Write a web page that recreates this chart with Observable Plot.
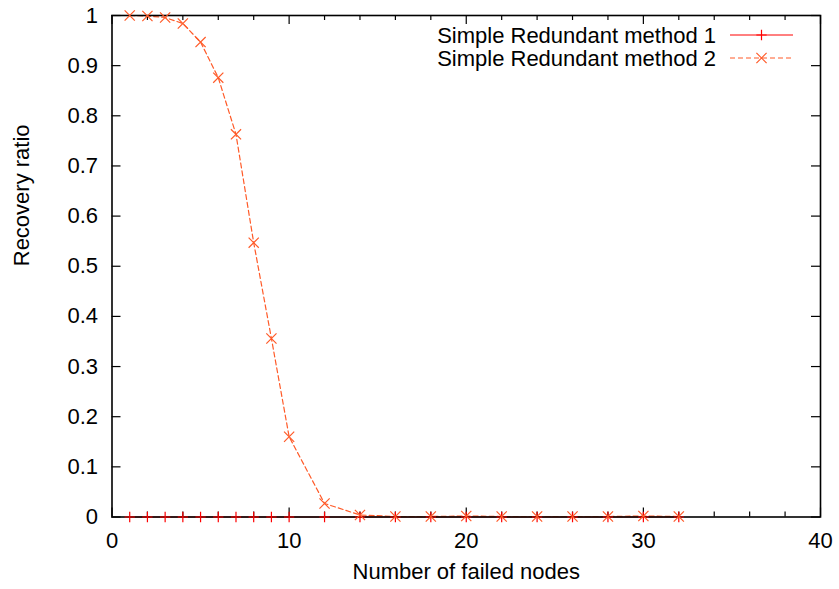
<!DOCTYPE html>
<html>
<head>
<meta charset="utf-8">
<script src="https://cdn.jsdelivr.net/npm/d3@7"></script>
<script src="https://cdn.jsdelivr.net/npm/@observablehq/plot@0.6"></script>
<style>
  html, body { margin: 0; padding: 0; background: #fff; }
  #wrap { position: relative; width: 839px; height: 589px; font-family: "Liberation Sans", Arial, sans-serif; }
  #wrap svg { display: block; }
  #legend { position: absolute; left: 0; top: 0; pointer-events: none; }
</style>
</head>
<body>
<div id="wrap"></div>
<script>
// ---- data ----
const failedNodes = [1, 2, 3, 4, 5, 6, 7, 8, 9, 10, 12, 14, 16, 18, 20, 22, 24, 26, 28, 30, 32];
const method1 = [0, 0, 0, 0, 0, 0, 0, 0, 0, 0, 0, 0, 0, 0, 0, 0, 0, 0, 0, 0, 0];
const method2 = [1.0, 0.999, 0.996, 0.984, 0.947, 0.876, 0.763, 0.547, 0.356, 0.160, 0.027, 0.004, 0.001, 0.001, 0.002, 0.001, 0.001, 0.001, 0.001, 0.002, 0.001];
const seriesNames = ["Simple Redundant method 1", "Simple Redundant method 2"];
const xMajorTicks = [0, 10, 20, 30, 40];
const xMinorTicks = [2, 4, 6, 8, 12, 14, 16, 18, 22, 24, 26, 28, 32, 34, 36, 38];
const yTicks = [0, 0.1, 0.2, 0.3, 0.4, 0.5, 0.6, 0.7, 0.8, 0.9, 1];

const color1 = "#ff0000";
const color2 = "#ff5a28";

const d1 = failedNodes.map((x, i) => ({x, y: method1[i]}));
const d2 = failedNodes.map((x, i) => ({x, y: method2[i]}));

const W = 839, H = 589;
const mL = 111.5, mR = 19, mT = 15, mB = 72.5;
const pxX = (W - mL - mR) / 40;   // px per x unit
const pxY = (H - mT - mB) / 1;    // px per y unit
const majorLen = 9, minorLen = 5;
const FS = 22;

const fmtY = d => String(+d.toFixed(1));

const chart = Plot.plot({
  width: W,
  height: H,
  marginLeft: mL,
  marginRight: mR,
  marginTop: mT,
  marginBottom: mB,
  style: {fontFamily: "Liberation Sans, Arial, sans-serif", fontSize: FS + "px", color: "#000", background: "#fff"},
  x: {domain: [0, 40]},
  y: {domain: [0, 1]},
  marks: [
    Plot.axisX(xMajorTicks, {tickSize: 0, tickPadding: 15, fontSize: FS, label: null}),
    Plot.axisY(yTicks, {tickSize: 0, tickPadding: 14, fontSize: FS, tickFormat: fmtY, label: null}),
    Plot.text(["Number of failed nodes"], {frameAnchor: "bottom", dy: 62, fontSize: FS}),
    Plot.text(["Recovery ratio"], {frameAnchor: "left", dx: -90, rotate: -90, fontSize: FS}),
    // inward ticks
    Plot.ruleX(xMajorTicks, {x: d => d, y1: 0, y2: majorLen / pxY, stroke: "#000", strokeWidth: 1.2}),
    Plot.ruleX(xMajorTicks, {x: d => d, y1: 1, y2: 1 - majorLen / pxY, stroke: "#000", strokeWidth: 1.2}),
    Plot.ruleX(xMinorTicks, {x: d => d, y1: 0, y2: minorLen / pxY, stroke: "#000", strokeWidth: 1.2}),
    Plot.ruleX(xMinorTicks, {x: d => d, y1: 1, y2: 1 - minorLen / pxY, stroke: "#000", strokeWidth: 1.2}),
    Plot.ruleY(yTicks, {y: d => d, x1: 0, x2: majorLen / pxX, stroke: "#000", strokeWidth: 1.2}),
    Plot.ruleY(yTicks, {y: d => d, x1: 40, x2: 40 - majorLen / pxX, stroke: "#000", strokeWidth: 1.2}),
    // series
    Plot.line(d1, {x: "x", y: "y", stroke: color1, strokeWidth: 1}),
    Plot.line(d2, {x: "x", y: "y", stroke: color2, strokeWidth: 1.2, strokeDasharray: "5,3"}),
    Plot.frame({stroke: "#000", strokeWidth: 1.6}),
    Plot.dot(d1, {x: "x", y: "y", symbol: "plus", r: 3.4, stroke: color1, strokeWidth: 1.2}),
    Plot.dot(d2, {x: "x", y: "y", symbol: "times", r: 4.7, stroke: color2, strokeWidth: 1.2})
  ]
});

const wrap = document.getElementById("wrap");
wrap.appendChild(chart);

// legend overlay (top-right inside plot)
const leg = d3.select(wrap).append("svg")
  .attr("id", "legend").attr("width", W).attr("height", H);
const legendRows = [
  {name: seriesNames[0], color: color1, symbol: d3.symbolPlus, r: 3.4, dash: null, w: 1},
  {name: seriesNames[1], color: color2, symbol: d3.symbolTimes, r: 4.7, dash: "5,3", w: 1.2}
];
const legTextRight = 716, legLineX1 = 730, legLineX2 = 793, legTop = 35, legStep = 23;
legendRows.forEach((row, i) => {
  const yy = legTop + i * legStep;
  leg.append("text").attr("x", legTextRight).attr("y", yy).attr("dy", "0.35em")
    .attr("text-anchor", "end").attr("font-size", FS)
    .attr("font-family", "Liberation Sans, Arial, sans-serif").text(row.name);
  leg.append("line").attr("x1", legLineX1).attr("x2", legLineX2).attr("y1", yy).attr("y2", yy)
    .attr("stroke", row.color).attr("stroke-width", row.w)
    .attr("stroke-dasharray", row.dash);
  leg.append("path").attr("transform", `translate(${(legLineX1 + legLineX2) / 2},${yy})`)
    .attr("d", d3.symbol(row.symbol, Math.PI * row.r * row.r)())
    .attr("fill", "none").attr("stroke", row.color).attr("stroke-width", 1.2);
});
</script>
</body>
</html>
